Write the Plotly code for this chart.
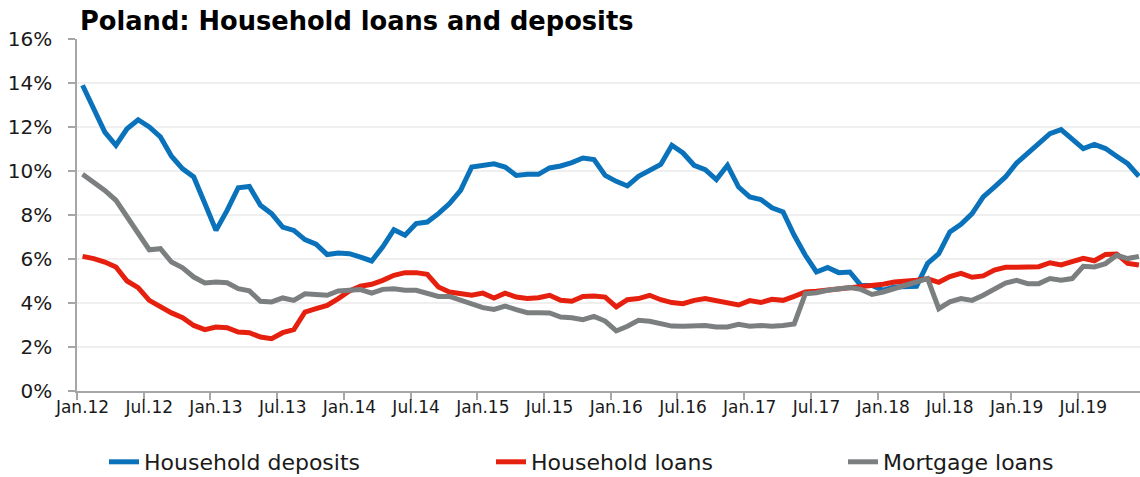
import plotly.graph_objects as go

# monthly data, Jan.12 - Dec.19, y/y growth in %
years = ["12", "13", "14", "15", "16", "17", "18", "19"]
month_names = ["Jan", "Feb", "Mar", "Apr", "May", "Jun",
               "Jul", "Aug", "Sep", "Oct", "Nov", "Dec"]
months = [f"{m}.{y}" for y in years for m in month_names]

tick_labels = ["Jan.12", "Jul.12", "Jan.13", "Jul.13", "Jan.14", "Jul.14",
               "Jan.15", "Jul.15", "Jan.16", "Jul.16", "Jan.17", "Jul.17",
               "Jan.18", "Jul.18", "Jan.19", "Jul.19"]

y_ticks = [0, 2, 4, 6, 8, 10, 12, 14, 16]

household_deposits = [
    13.9, 12.83, 11.77, 11.17, 11.92, 12.33, 12.0, 11.55, 10.67, 10.1, 9.73, 8.52,
    7.3, 8.21, 9.24, 9.3, 8.44, 8.06, 7.45, 7.3, 6.88, 6.67, 6.2, 6.27,
    6.24, 6.09, 5.91, 6.55, 7.33, 7.08, 7.61, 7.68, 8.06, 8.52, 9.12, 10.18,
    10.23, 10.33, 10.18, 9.8, 9.85, 9.85, 10.14, 10.23, 10.38, 10.59, 10.52, 9.8,
    9.53, 9.32, 9.76, 10.0, 10.3, 11.17, 10.82, 10.26, 10.06, 9.61, 10.26, 9.27,
    8.82, 8.7, 8.33, 8.14, 7.08, 6.17, 5.41, 5.61, 5.38, 5.41, 4.8, 4.8,
    4.58, 4.73, 4.76, 4.76, 5.8, 6.24, 7.23, 7.58, 8.06, 8.82, 9.27, 9.73,
    10.36, 10.82, 11.21, 11.7, 11.88, 11.47, 11.02, 11.21, 11.02, 10.67, 10.33, 9.76,
]

household_loans = [
    6.12, 6.02, 5.86, 5.64, 5.0, 4.7, 4.12, 3.82, 3.55, 3.33, 2.98, 2.79,
    2.91, 2.88, 2.68, 2.65, 2.45, 2.38, 2.65, 2.79, 3.59, 3.74, 3.89, 4.2,
    4.55, 4.76, 4.85, 5.03, 5.26, 5.38, 5.38, 5.3, 4.73, 4.5, 4.45, 4.35,
    4.45, 4.23, 4.45, 4.27, 4.2, 4.24, 4.35, 4.12, 4.08, 4.3, 4.32, 4.27,
    3.82, 4.15, 4.2, 4.35, 4.15, 4.02, 3.97, 4.12, 4.2, 4.12, 4.03, 3.91,
    4.11, 4.02, 4.17, 4.12, 4.3, 4.5, 4.53, 4.58, 4.61, 4.65, 4.73, 4.8,
    4.85, 4.95, 4.98, 5.03, 5.1, 4.94, 5.2, 5.35, 5.17, 5.23, 5.5, 5.62,
    5.62, 5.61, 5.65, 5.83, 5.73, 5.88, 6.03, 5.92, 6.21, 6.23, 5.8, 5.73,
]

mortgage_loans = [
    9.85, 9.5, 9.12, 8.67, 7.91, 7.23, 6.42, 6.47, 5.86, 5.6, 5.18, 4.91,
    4.95, 4.92, 4.65, 4.55, 4.08, 4.05, 4.23, 4.12, 4.42, 4.39, 4.35, 4.55,
    4.58, 4.61, 4.45, 4.62, 4.65, 4.58, 4.58, 4.45, 4.3, 4.3, 4.12, 3.94,
    3.79, 3.71, 3.86, 3.7, 3.56, 3.56, 3.55, 3.36, 3.33, 3.24, 3.39, 3.18,
    2.73, 2.94, 3.21, 3.17, 3.06, 2.95, 2.94, 2.94, 2.98, 2.91, 2.91, 3.03,
    2.94, 2.98, 2.94, 2.98, 3.05, 4.42, 4.47, 4.58, 4.62, 4.7, 4.62, 4.39,
    4.5, 4.65, 4.85, 5.0, 5.11, 3.74, 4.05, 4.2, 4.12, 4.35, 4.61, 4.91,
    5.03, 4.88, 4.88, 5.11, 5.03, 5.11, 5.67, 5.64, 5.79, 6.17, 6.02, 6.12,
]

FONT = "DejaVu Sans"
W, H = 1140, 477
x = list(range(len(months)))

fig = go.Figure()

# серии, у каждой своя легенда (чтобы расставить как в оригинале)
series = [
    ("Household deposits", household_deposits, "#0a72ba", "legend", 104),
    ("Household loans", household_loans, "#e6200f", "legend2", 491),
    ("Mortgage loans", mortgage_loans, "#7c7f80", "legend3", 843),
]
for name, vals, col, leg, _ in series:
    fig.add_trace(go.Scatter(
        x=x, y=vals, name=name, mode="lines",
        customdata=months, legend=leg,
        line=dict(color=col, width=5),
        hovertemplate="%{customdata}: %{y:.1f}%<extra>" + name + "</extra>",
    ))

# оси: подписи по центру месяца, риски на границах
fig.update_xaxes(
    range=[-0.5, 95.1],
    tickmode="array",
    tickvals=[x[i] for i in range(0, len(months), 6)],
    ticktext=tick_labels,
    ticks="",
    showgrid=False,
    showline=True, linecolor="#a6a6a6", linewidth=1.5,
    minor=dict(tickmode="array",
               tickvals=[v - 0.5 for v in range(0, len(months), 6)],
               ticks="outside", ticklen=7, tickwidth=1.5, tickcolor="#a6a6a6",
               showgrid=False),
    tickfont=dict(family=FONT, size=17, color="#1a1a1a"),
    zeroline=False,
    automargin=False,
)
fig.update_yaxes(
    range=[0, 16],
    tickmode="array",
    tickvals=y_ticks,
    ticktext=[f"{v}%" for v in y_ticks],
    ticks="outside", ticklen=7, tickwidth=1.5, tickcolor="#a6a6a6",
    ticklabelstandoff=12,
    showline=True, linecolor="#a6a6a6", linewidth=1.5,
    showgrid=True, gridcolor="#efefef", gridwidth=1.5,
    zeroline=False,
    tickfont=dict(family=FONT, size=20, color="#1a1a1a"),
    automargin=False,
)

legend_style = dict(orientation="h", xref="container", yref="container",
                    xanchor="left", y=1 - 462 / H, yanchor="middle",
                    font=dict(family=FONT, size=22, color="#1a1a1a"),
                    bgcolor="rgba(0,0,0,0)")
legends = {}
for name, vals, col, leg, lx in series:
    legends[leg] = dict(legend_style, x=lx / W)

fig.update_layout(
    width=W, height=H,
    margin=dict(l=77, r=0, t=39, b=86, autoexpand=False),
    paper_bgcolor="white", plot_bgcolor="white",
    title=dict(text="<b>Poland: Household loans and deposits</b>",
               x=80 / W, xanchor="left", y=1 - 21 / H, yanchor="middle",
               font=dict(family=FONT, size=25.7, color="#000000")),
    showlegend=True,
    **legends,
)

fig.write_html("out.html", config={"displayModeBar": False},
               post_script="document.body.style.margin='0';")
